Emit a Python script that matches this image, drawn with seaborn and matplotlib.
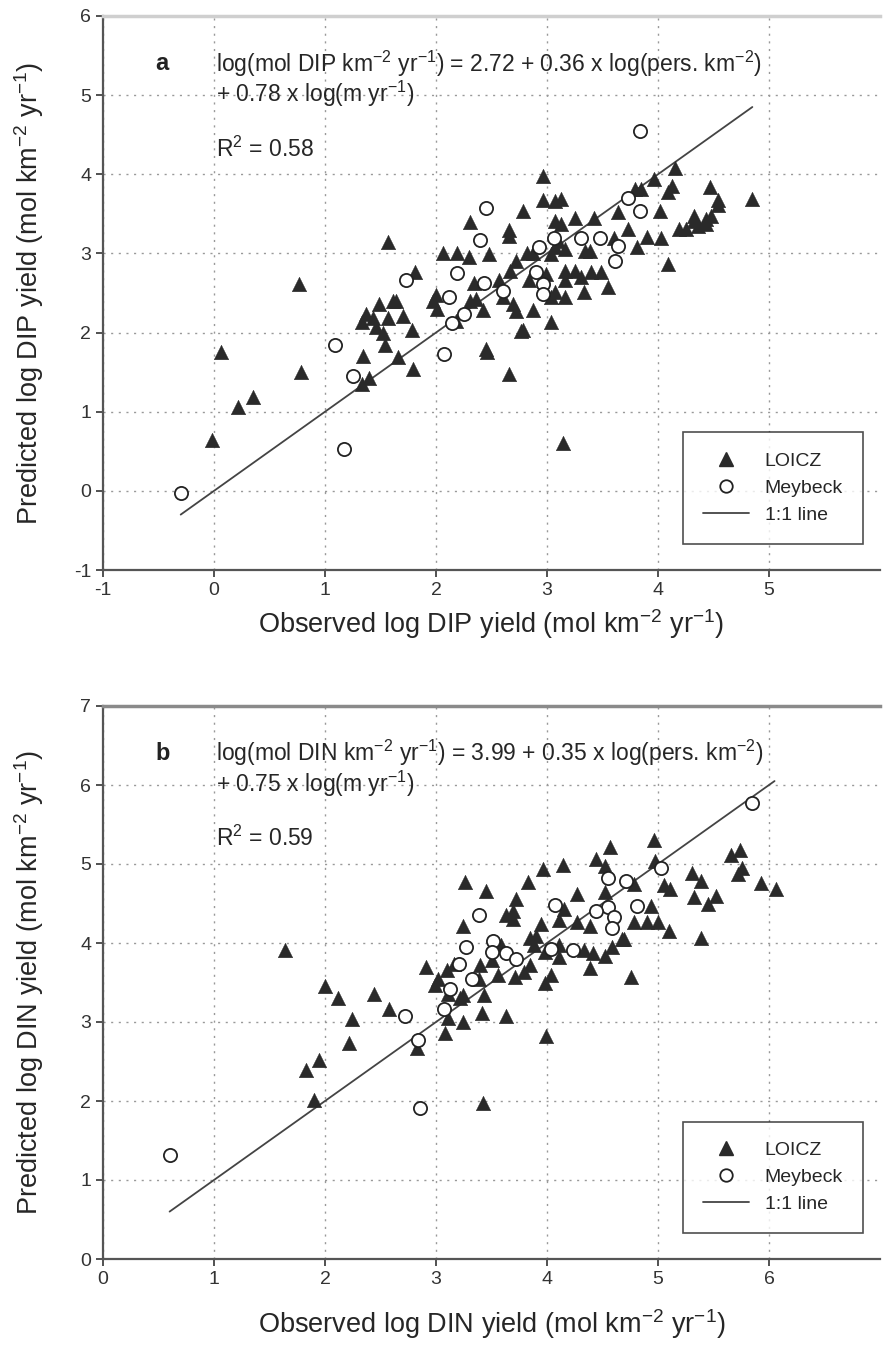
# observed vs predicted DIP / DIN yield, two stacked panels

import numpy as np
import pandas as pd
import matplotlib
matplotlib.use('Agg')
import matplotlib.pyplot as plt
import seaborn as sns
from matplotlib.lines import Line2D


# ---- panel a: DIP ----
dip_loicz_obs = [2.96, 2.96, 3.07, 3.13, 2.78, 2.31, 2.66, 2.66, 3.07, 3.13, 3.25, 3.42,
                 3.64, 3.79, 3.85, 3.96, 4.15, 4.13, 4.09, 4.47, 4.85, 4.54, 4.54, 4.02,
                 4.32, 4.32, 4.43, 4.48, 4.19, 4.25, 4.36, 4.43, 3.73, 3.90, 4.03, 3.81,
                 3.60, 3.34, 3.39, 3.16, 3.10, 3.04, 3.07, 2.82, 2.87, 2.48, 2.30, 2.19,
                 2.06, 1.81, 1.57, 2.72, 2.67, 2.57, 2.34, 2.36, 2.31, 2.84, 2.99, 3.16,
                 3.16, 3.16, 3.04, 3.07, 3.31, 3.40, 3.49, 3.33, 3.55, 4.09, 2.00, 1.97,
                 2.01, 2.18, 2.42, 2.60, 2.69, 2.72, 2.87, 2.78, 3.04, 2.45, 2.46, 2.66,
                 1.79, 1.66, 1.34, 1.40, 1.33, 0.78, 0.77, 1.49, 1.61, 1.64, 1.33, 1.43,
                 1.46, 1.52, 1.54, 1.57, 1.70, 1.78, 1.37, 3.25, 0.06, 0.35, 0.22, -0.02,
                 3.14, 2.77]
dip_loicz_pred = [3.98, 3.68, 3.66, 3.69, 3.53, 3.40, 3.29, 3.22, 3.41, 3.37, 3.45, 3.45,
                  3.52, 3.81, 3.81, 3.94, 4.08, 3.85, 3.77, 3.84, 3.69, 3.67, 3.61, 3.53,
                  3.47, 3.41, 3.43, 3.47, 3.31, 3.31, 3.35, 3.37, 3.31, 3.21, 3.20, 3.08,
                  3.20, 3.03, 3.03, 3.05, 3.16, 2.99, 3.08, 3.01, 3.01, 2.99, 2.95, 3.00,
                  3.00, 2.77, 3.14, 2.91, 2.78, 2.66, 2.63, 2.42, 2.40, 2.66, 2.74, 2.78,
                  2.66, 2.45, 2.45, 2.51, 2.70, 2.76, 2.76, 2.51, 2.57, 2.87, 2.47, 2.40,
                  2.30, 2.15, 2.28, 2.45, 2.36, 2.27, 2.29, 2.03, 2.13, 1.79, 1.75, 1.48,
                  1.54, 1.69, 1.71, 1.42, 1.35, 1.50, 2.62, 2.36, 2.40, 2.40, 2.13, 2.19,
                  2.07, 2.00, 1.84, 2.19, 2.21, 2.03, 2.24, 2.78, 1.75, 1.19, 1.06, 0.64,
                  0.60, 2.02]
dip_meybeck_obs = [3.84, 2.45, 2.40, 3.73, 3.84, 3.06, 3.31, 3.48, 3.64, 3.61, 2.93, 2.19,
                   1.73, 2.43, 2.12, 2.25, 2.14, 2.60, 2.90, 2.96, 2.96, 1.09, 2.07, 1.25,
                   1.17, -0.30]
dip_meybeck_pred = [4.55, 3.57, 3.17, 3.70, 3.54, 3.20, 3.20, 3.20, 3.09, 2.91, 3.08, 2.75,
                    2.67, 2.63, 2.45, 2.24, 2.12, 2.53, 2.76, 2.61, 2.49, 1.84, 1.73, 1.45,
                    0.53, -0.03]
dip_line = [-0.3, 4.85]

# ---- panel b: DIN ----
din_loicz_obs = [4.96, 4.57, 4.44, 4.14, 3.96, 4.97, 5.66, 5.74, 5.76, 5.72, 5.31, 5.39,
                 5.93, 6.06, 5.05, 5.11, 5.32, 5.45, 5.52, 4.78, 4.52, 4.52, 4.94, 4.78,
                 4.90, 5.00, 5.10, 5.39, 4.69, 4.76, 4.27, 4.15, 4.11, 4.27, 3.95, 3.85,
                 3.88, 3.98, 4.11, 4.11, 4.33, 4.41, 4.39, 4.52, 4.59, 4.68, 4.04, 3.98,
                 3.72, 3.69, 3.69, 3.63, 3.83, 3.45, 3.26, 3.24, 3.90, 3.59, 3.85, 3.79,
                 3.71, 3.56, 3.50, 3.40, 3.39, 3.43, 3.10, 3.16, 3.02, 2.99, 2.91, 3.11,
                 3.24, 3.22, 3.11, 3.24, 3.41, 3.63, 3.08, 2.83, 3.99, 3.42, 1.90, 1.83,
                 1.95, 2.22, 2.24, 2.12, 2.00, 2.44, 2.58, 1.64, 4.39]
din_loicz_pred = [5.31, 5.21, 5.06, 4.99, 4.94, 5.04, 5.11, 5.18, 4.95, 4.87, 4.89, 4.79,
                  4.76, 4.68, 4.73, 4.68, 4.58, 4.50, 4.59, 4.75, 4.98, 4.64, 4.47, 4.26,
                  4.26, 4.27, 4.15, 4.06, 4.05, 3.57, 4.62, 4.43, 4.29, 4.26, 4.24, 4.06,
                  3.97, 3.89, 3.82, 3.97, 3.91, 3.87, 3.68, 3.84, 3.95, 4.05, 3.59, 3.49,
                  4.56, 4.41, 4.31, 4.35, 4.77, 4.66, 4.77, 4.22, 4.09, 3.97, 3.72, 3.63,
                  3.57, 3.59, 3.78, 3.72, 3.55, 3.34, 3.66, 3.74, 3.55, 3.47, 3.70, 3.36,
                  3.34, 3.30, 3.05, 3.00, 3.11, 3.07, 2.86, 2.67, 2.82, 1.97, 2.01, 2.39,
                  2.52, 2.73, 3.04, 3.30, 3.45, 3.36, 3.16, 3.91, 4.21]
din_meybeck_obs = [5.85, 5.03, 4.55, 4.71, 4.55, 4.44, 4.60, 4.59, 4.81, 4.07, 4.04, 4.23,
                   3.39, 3.27, 3.51, 3.50, 3.63, 3.72, 3.21, 3.32, 3.13, 3.07, 2.72, 2.84,
                   2.86, 0.60]
din_meybeck_pred = [5.77, 4.95, 4.82, 4.78, 4.46, 4.41, 4.33, 4.19, 4.47, 4.48, 3.93, 3.91,
                    4.36, 3.95, 4.03, 3.89, 3.87, 3.80, 3.74, 3.55, 3.42, 3.16, 3.07, 2.77,
                    1.91, 1.32]
din_line = [0.6, 6.05]

panels = [
    dict(letter='a', nut='DIP', loicz=(dip_loicz_obs, dip_loicz_pred),
         meybeck=(dip_meybeck_obs, dip_meybeck_pred), line=dip_line,
         lim=(-1, 6), ticks=[-1, 0, 1, 2, 3, 4, 5], top_spine='#cfcfcf', xpad=6,
         eq1='log(mol DIP km$^{-2}$ yr$^{-1}$) = 2.72 + 0.36 x log(pers. km$^{-2}$)',
         eq2='+ 0.78 x log(m yr$^{-1}$)', r2='R$^2$ = 0.58',
         rect=[103/890, 1 - 570/1346, 777/890, 554/1346]),
    dict(letter='b', nut='DIN', loicz=(din_loicz_obs, din_loicz_pred),
         meybeck=(din_meybeck_obs, din_meybeck_pred), line=din_line,
         lim=(0, 7), ticks=[0, 1, 2, 3, 4, 5, 6], top_spine='#8a8a8a', xpad=14,
         eq1='log(mol DIN km$^{-2}$ yr$^{-1}$) = 3.99 + 0.35 x log(pers. km$^{-2}$)',
         eq2='+ 0.75 x log(m yr$^{-1}$)', r2='R$^2$ = 0.59',
         rect=[103/890, 1 - 1259/1346, 777/890, 553/1346]),
]

sns.set_style('white')
plt.rcParams['font.family'] = ['Liberation Sans', 'DejaVu Sans']
plt.rcParams['mathtext.default'] = 'regular'
plt.rcParams['axes.unicode_minus'] = False

TRI = '#2a2a2a'
fig = plt.figure(figsize=(8.9, 13.46), dpi=100)

for p in panels:
    ax = fig.add_axes(p['rect'])
    lo = pd.DataFrame({'obs': p['loicz'][0], 'pred': p['loicz'][1]})
    me = pd.DataFrame({'obs': p['meybeck'][0], 'pred': p['meybeck'][1]})
    ln = pd.DataFrame({'obs': p['line'], 'pred': p['line']})

    sns.lineplot(data=ln, x='obs', y='pred', color='#444444', lw=1.3, ax=ax, zorder=2)
    sns.scatterplot(data=lo, x='obs', y='pred', marker='^', s=110, color=TRI,
                    edgecolor=TRI, linewidth=0.3, ax=ax, zorder=3)
    sns.scatterplot(data=me, x='obs', y='pred', marker='o', s=90, facecolor='white',
                    edgecolor='#222222', linewidth=1.3, ax=ax, zorder=4)

    lo_lim, hi_lim = p['lim']
    ax.set_xlim(lo_lim, hi_lim)
    ax.set_ylim(lo_lim, hi_lim)
    ax.set_xticks(p['ticks'])
    ax.set_yticks(p['ticks'] + [hi_lim])
    ax.grid(True, ls=(0, (1.5, 4)), color='#999999', lw=1.0)
    ax.tick_params(axis='both', direction='out', length=5, width=1.2,
                   labelsize=14, colors='#333333', left=True, bottom=True)
    for side in ['left', 'bottom']:
        ax.spines[side].set_color('#555555')
        ax.spines[side].set_linewidth(1.6)
    ax.spines['top'].set_color(p['top_spine'])
    ax.spines['top'].set_linewidth(2.5)
    ax.spines['right'].set_visible(False)

    unit = '(mol km$^{-2}$ yr$^{-1}$)'
    ax.set_xlabel(f"Observed log {p['nut']} yield {unit}", fontsize=19.5, labelpad=p['xpad'])
    ax.set_ylabel(f"Predicted log {p['nut']} yield {unit}", fontsize=19.5)
    ax.yaxis.set_label_coords(-0.074, 0.5)

    ax.text(lo_lim + 0.47, hi_lim - 0.6, p['letter'], fontsize=17, fontweight='bold',
            color='#222222', va='center')
    ax.text(lo_lim + 1.02, hi_lim - 0.6, p['eq1'], fontsize=16.5, va='center')
    ax.text(lo_lim + 1.02, hi_lim - 0.98, p['eq2'], fontsize=16.5, va='center')
    ax.text(lo_lim + 1.02, hi_lim - 1.68, p['r2'], fontsize=16.5, va='center')

    handles = [
        Line2D([], [], ls='none', marker='^', ms=10, color=TRI, label='LOICZ'),
        Line2D([], [], ls='none', marker='o', ms=9, mfc='white', mec='#222222',
               mew=1.3, label='Meybeck'),
        Line2D([], [], color='#444444', lw=1.3, label='1:1 line'),
    ]
    leg = ax.legend(handles=handles, loc='lower right', bbox_to_anchor=(0.99, 0.03),
                    fontsize=14, frameon=True, fancybox=False, borderpad=1.0,
                    labelspacing=0.5, handlelength=2.4)
    leg.get_frame().set_edgecolor('#222222')
    leg.get_frame().set_linewidth(1.2)

fig.savefig('out.png', dpi=100)
